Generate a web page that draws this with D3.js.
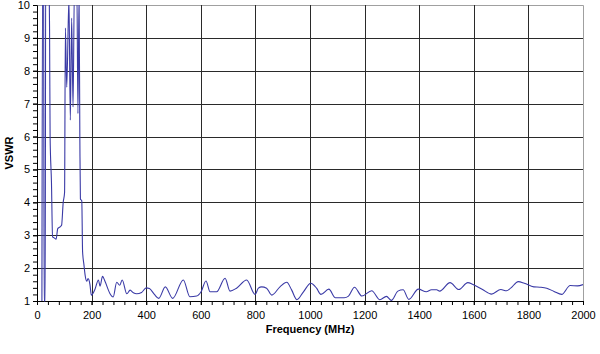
<!DOCTYPE html>
<html>
<head>
<meta charset="utf-8">
<script src="https://cdn.jsdelivr.net/npm/d3@7"></script>
<style>
  body { margin: 0; background: #fff; }
  svg { display: block; font-family: "Liberation Sans", Arial, sans-serif; }
</style>
</head>
<body>
<svg></svg>
<script>
// measured VSWR curve (frequency in MHz, VSWR)
var freqs = [18, 21, 24, 26, 30, 32, 44, 46, 48, 53, 57, 63, 70, 76, 84, 90, 96, 101,
  104, 109, 117, 122, 127, 132, 137, 146, 150, 154, 157, 159, 164, 167, 172, 176, 182, 187, 194,
  199, 212, 225, 231, 240, 249, 267, 279, 292, 303, 312, 329, 341, 353, 365, 383, 400, 412, 430,
  446, 470, 497, 536, 560, 585, 601, 619, 634, 658, 689, 707, 731, 768, 799, 811, 823, 841, 860,
  890, 915, 933, 952, 976, 1003, 1024, 1040, 1069, 1093, 1125, 1141, 1163, 1190, 1226, 1256,
  1280, 1298, 1322, 1341, 1362, 1397, 1426, 1445, 1464, 1475, 1513, 1545, 1578, 1597, 1632,
  1665, 1699, 1720, 1735, 1763, 1785, 1820, 1842, 1867, 1894, 1922, 1953, 1980, 2000];
var vswr = [1.0, 12, 12, 1.0, 1.0, 12, 11, 9.3, 6.0, 4.6, 2.95, 2.92, 2.88, 3.2, 3.25, 3.3, 4.0, 4.3,
  9.3, 7.5, 10.2, 6.5, 9.6, 6.9, 10.5, 10.5, 6.7, 10.3, 5.9, 4.1, 4.05, 2.5, 2.1, 1.8, 1.6, 1.68, 1.5,
  1.18, 1.35, 1.64, 1.45, 1.75, 1.6, 1.23, 1.12, 1.57, 1.48, 1.64, 1.22, 1.33, 1.25, 1.22, 1.26, 1.4, 1.38, 1.2,
  1.08, 1.43, 1.08, 1.64, 1.13, 1.15, 1.28, 1.61, 1.28, 1.28, 1.69, 1.3, 1.39, 1.64, 1.2, 1.39, 1.43, 1.39, 1.18,
  1.43, 1.57, 1.33, 1.04, 1.28, 1.54, 1.39, 1.2, 1.36, 1.1, 1.1, 1.15, 1.42, 1.15, 1.31, 1.04,
  1.14, 1.02, 1.3, 1.34, 1.05, 1.36, 1.28, 1.34, 1.34, 1.3, 1.56, 1.35, 1.56, 1.5, 1.35,
  1.21, 1.35, 1.31, 1.39, 1.59, 1.54, 1.43, 1.42, 1.39, 1.29, 1.2, 1.47, 1.46, 1.5];

var xTicks = [0, 200, 400, 600, 800, 1000, 1200, 1400, 1600, 1800, 2000];
var yTicks = [1, 2, 3, 4, 5, 6, 7, 8, 9, 10];

var data = freqs.map(function(f, i) { return { f: f, v: vswr[i] }; });

var svgWidth = 600, svgHeight = 354;
var margin = { top: 5, right: 17, bottom: 53, left: 37 };
var width = svgWidth - margin.left - margin.right;
var height = svgHeight - margin.top - margin.bottom;

var svg = d3.select('svg')
    .attr("width", svgWidth)
    .attr("height", svgHeight);

var g = svg.append("g")
    .attr("transform", "translate(" + margin.left + "," + margin.top + ")");

var x = d3.scaleLinear().domain([0, 2000]).range([0, width]);
var y = d3.scaleLinear().domain([1, 10]).range([height, 0]);

// top and right frame
g.append("path")
    .attr("d", "M0.5,0.5H" + (width + 0.5) + "V" + height)
    .attr("fill", "none")
    .attr("stroke", "#a0a0a0");

// grid lines
g.append("g").selectAll("line")
    .data(yTicks.slice(1, -1))
    .join("line")
    .attr("x1", 0).attr("x2", width)
    .attr("y1", function(d) { return Math.round(y(d)) + 0.5; })
    .attr("y2", function(d) { return Math.round(y(d)) + 0.5; })
    .attr("stroke", "#2a2a2a");

g.append("g").selectAll("line")
    .data(xTicks.slice(1, -1))
    .join("line")
    .attr("y1", 0).attr("y2", height)
    .attr("x1", function(d) { return Math.round(x(d)) + 0.5; })
    .attr("x2", function(d) { return Math.round(x(d)) + 0.5; })
    .attr("stroke", "#2a2a2a");

// minor ticks
var minorX = d3.range(0, 2001, 40);
var minorY = d3.range(1, 10.01, 0.2);

g.append("g")
    .attr("transform", "translate(0," + height + ")")
    .call(d3.axisBottom(x).tickValues(minorX).tickSize(4).tickFormat(""))
    .call(function(a) { a.select(".domain").remove(); });

g.append("g")
    .call(d3.axisLeft(y).tickValues(minorY).tickSize(4).tickFormat(""))
    .call(function(a) { a.select(".domain").remove(); });

// main axes
var xAxis = g.append("g")
    .attr("transform", "translate(0," + height + ")")
    .call(d3.axisBottom(x).tickValues(xTicks).tickSize(4).tickPadding(6).tickFormat(d3.format("d")));
xAxis.selectAll("text").attr("font-size", 11).attr("fill", "#000");

var yAxis = g.append("g")
    .call(d3.axisLeft(y).tickValues(yTicks).tickSize(4).tickPadding(3));
yAxis.selectAll("text").attr("font-size", 11).attr("fill", "#000");

svg.selectAll(".domain").attr("stroke", "#000");

// clip the curve to the plot area
g.append("clipPath").attr("id", "plot")
    .append("rect").attr("width", width).attr("height", height + 1);

var line = d3.line()
    .x(function(d) { return x(d.f); })
    .y(function(d) { return y(d.v); })
    .curve(d3.curveMonotoneX);

g.append("path")
    .datum(data)
    .attr("clip-path", "url(#plot)")
    .attr("fill", "none")
    .attr("stroke", "#3a3aa6")
    .attr("stroke-width", 1.1)
    .attr("stroke-linejoin", "round")
    .attr("d", line);

// axis titles
svg.append("text")
    .attr("x", margin.left + width / 2)
    .attr("y", 333)
    .attr("text-anchor", "middle")
    .attr("font-size", 11)
    .attr("font-weight", "bold")
    .text("Frequency (MHz)");

svg.append("text")
    .attr("transform", "translate(13," + (margin.top + height / 2) + ") rotate(-90)")
    .attr("text-anchor", "middle")
    .attr("font-size", 11)
    .attr("font-weight", "bold")
    .text("VSWR");
</script>
</body>
</html>
